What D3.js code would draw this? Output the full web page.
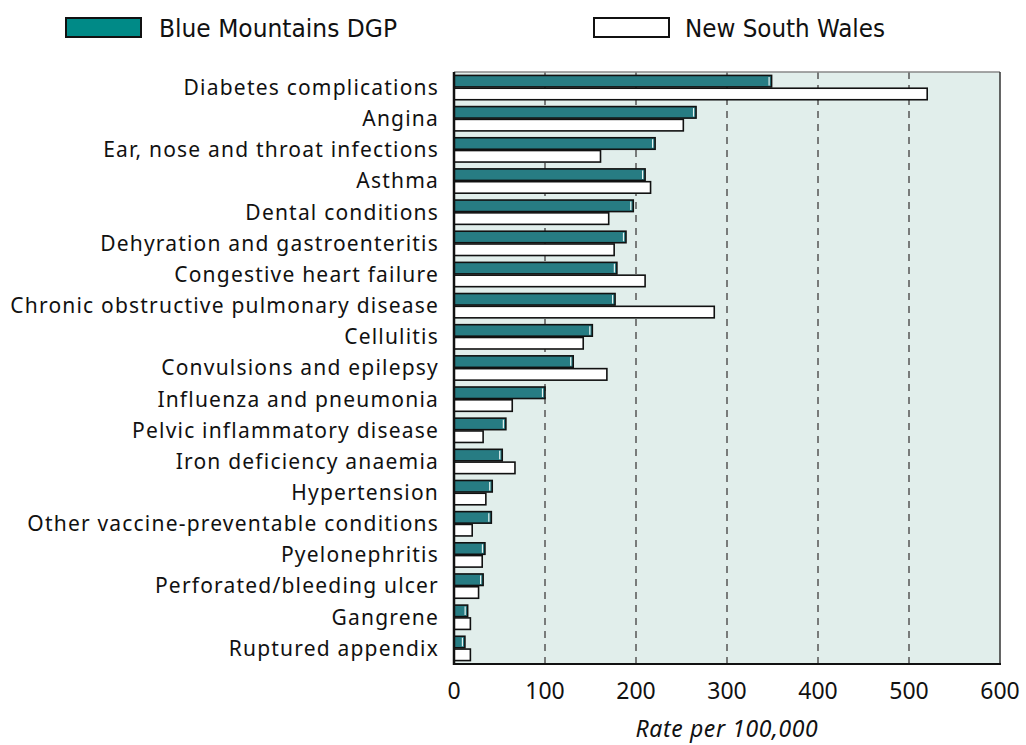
<!DOCTYPE html>
<html>
<head>
<meta charset="utf-8">
<script src="https://cdn.jsdelivr.net/npm/d3@7"></script>
<style>
  body { margin: 0; background: #fff; }
  .cat { font-family: "Noto Sans", sans-serif; font-size: 21px; letter-spacing: 1.2px; fill: #111; }
  .tick-lbl { font-family: "Noto Sans", sans-serif; font-size: 23px; fill: #111; }
  .legend text { font-family: "Liberation Sans Narrow", "DejaVu Sans Condensed", sans-serif; font-size: 25px; fill: #111; }
</style>
</head>
<body>
<div id="chart"></div>
<script>
// data
var categories = ['Diabetes complications', 'Angina', 'Ear, nose and throat infections', 'Asthma',
  'Dental conditions', 'Dehyration and gastroenteritis', 'Congestive heart failure',
  'Chronic obstructive pulmonary disease', 'Cellulitis', 'Convulsions and epilepsy',
  'Influenza and pneumonia', 'Pelvic inflammatory disease', 'Iron deficiency anaemia',
  'Hypertension', 'Other vaccine-preventable conditions', 'Pyelonephritis',
  'Perforated/bleeding ulcer', 'Gangrene', 'Ruptured appendix'];
var blueMountains = [349, 266, 221, 210, 197, 189, 179, 177, 152, 131, 100, 57, 53, 42, 41, 34, 32, 15, 12];
var nsw = [520, 252, 161, 216, 170, 176, 210, 286, 142, 168, 64, 32, 67, 35, 20, 31, 27, 18, 18];
var seriesNames = ['Blue Mountains DGP', 'New South Wales'];
var xTicks = [0, 100, 200, 300, 400, 500, 600];

(function (d3) {
  'use strict';
  var width = 1026, height = 745;
  var pLeft = 454, pRight = 1000, pTop = 72, pBottom = 664;

  var svg = d3.select('#chart').append('svg')
    .attr('width', width).attr('height', height);

  var x = d3.scaleLinear().domain([0, 600]).range([pLeft, pRight]);
  var y = d3.scaleBand().domain(categories).range([pTop, pBottom])
    .paddingInner(0.22).paddingOuter(0.11);
  var ySub = d3.scaleBand().domain([0, 1]).range([0, y.bandwidth()]).paddingInner(0.1);

  // plot background
  svg.append('rect')
    .attr('x', pLeft).attr('y', pTop)
    .attr('width', pRight - pLeft).attr('height', pBottom - pTop)
    .attr('fill', '#e1eeeb');

  // dashed grid
  svg.selectAll('.grid')
    .data(xTicks.slice(1, -1))
    .enter().append('line')
    .attr('x1', function(d){ return x(d); })
    .attr('x2', function(d){ return x(d); })
    .attr('y1', pTop).attr('y2', pBottom)
    .attr('stroke', '#555').attr('stroke-width', 1.5)
    .attr('stroke-dasharray', '7,6');

  // border
  svg.append('line').attr('x1', pLeft).attr('x2', pRight).attr('y1', pTop).attr('y2', pTop)
    .attr('stroke', '#888').attr('stroke-width', 1.5);
  svg.append('line').attr('x1', pRight).attr('x2', pRight).attr('y1', pTop).attr('y2', pBottom)
    .attr('stroke', '#333').attr('stroke-width', 1.5);

  // bars
  var rows = categories.map(function(c, i){ return { cat: c, vals: [blueMountains[i], nsw[i]] }; });
  var g = svg.selectAll('.row').data(rows).enter().append('g')
    .attr('transform', function(d){ return 'translate(0,' + y(d.cat) + ')'; });

  g.selectAll('rect')
    .data(function(d){ return d.vals; })
    .enter().append('rect')
    .attr('x', x(0))
    .attr('y', function(d, i){ return ySub(i); })
    .attr('width', function(d){ return x(d) - x(0); })
    .attr('height', ySub.bandwidth())
    .attr('fill', function(d, i){ return i === 0 ? '#277c83' : '#fff'; })
    .attr('stroke', '#111').attr('stroke-width', 1.6);

  // white highlight on teal bars
  g.append('line')
    .attr('x1', function(d){ return x(d.vals[0]) - 2.5; })
    .attr('x2', function(d){ return x(d.vals[0]) - 2.5; })
    .attr('y1', ySub(0) + 1.5)
    .attr('y2', ySub(0) + ySub.bandwidth() - 1.5)
    .attr('stroke', '#e8f4f2').attr('stroke-width', 1.2);

  // axes lines
  svg.append('line').attr('x1', pLeft).attr('x2', pLeft).attr('y1', pTop).attr('y2', pBottom + 1)
    .attr('stroke', '#111').attr('stroke-width', 2.5);
  svg.append('line').attr('x1', pLeft - 1).attr('x2', pRight + 1).attr('y1', pBottom).attr('y2', pBottom)
    .attr('stroke', '#111').attr('stroke-width', 2);

  // category labels
  svg.selectAll('.cat')
    .data(categories)
    .enter().append('text')
    .attr('class', 'cat')
    .attr('x', pLeft - 15)
    .attr('y', function(d){ return y(d) + y.bandwidth() / 2; })
    .attr('dy', '0.35em')
    .attr('text-anchor', 'end')
    .text(function(d){ return d; });

  // x tick labels
  svg.selectAll('.tick-lbl')
    .data(xTicks)
    .enter().append('text')
    .attr('class', 'tick-lbl')
    .attr('x', function(d){ return x(d); })
    .attr('y', 699)
    .attr('text-anchor', 'middle')
    .text(function(d){ return d; });

  svg.append('text')
    .attr('x', x(300)).attr('y', 737)
    .attr('text-anchor', 'middle')
    .style('font-family', '"Noto Sans", sans-serif')
    .style('font-size', '23px').style('font-style', 'italic')
    .style('letter-spacing', '0.6px').style('fill', '#111')
    .text('Rate per 100,000');

  // legend
  var legendWidths = [238, 200];
  var legend = svg.selectAll('.legend')
    .data(seriesNames)
    .enter().append('g')
    .attr('class', 'legend')
    .attr('transform', function(d, i){ return 'translate(' + (i === 0 ? 66 : 594) + ',18)'; });

  legend.append('rect')
    .attr('width', 75).attr('height', 19)
    .attr('fill', function(d, i){ return i === 0 ? '#008a87' : '#fff'; })
    .attr('stroke', '#111').attr('stroke-width', 2);

  legend.append('text')
    .attr('x', function(d, i){ return i === 0 ? 93 : 91; })
    .attr('y', 19)
    .attr('textLength', function(d, i){ return legendWidths[i]; })
    .attr('lengthAdjust', 'spacingAndGlyphs')
    .text(function(d){ return d; });
})(window.d3);
</script>
</body>
</html>
